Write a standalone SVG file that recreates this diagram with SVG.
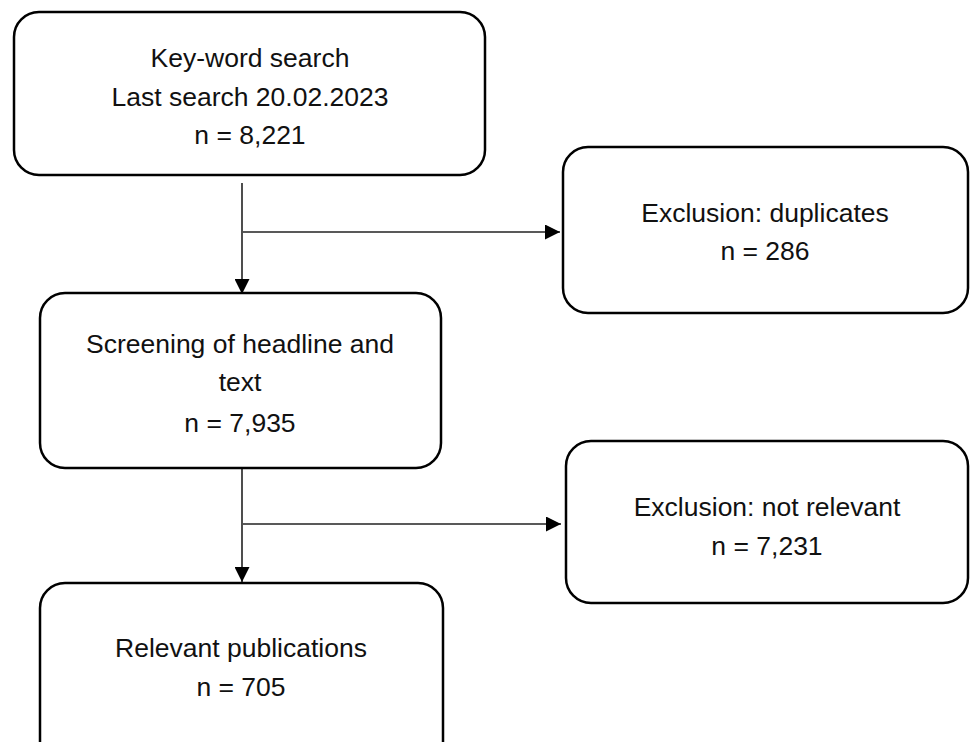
<svg xmlns="http://www.w3.org/2000/svg" width="970" height="742" viewBox="0 0 970 742">
<defs>
<style>
.box{fill:#fff;stroke:#000;stroke-width:2.5}
.t{font-family:"Liberation Sans","Open Sans",sans-serif;font-size:26.5px;fill:#111;text-anchor:middle}
.c{stroke:#222;stroke-width:1.6;fill:none}
</style>
<marker id="ah" viewBox="0 0 10 10" refX="10" refY="5" markerWidth="15" markerHeight="15" markerUnits="userSpaceOnUse" orient="auto">
<path d="M0,0 L10,5 L0,10 Z" fill="#000"/>
</marker>
</defs>
<rect width="970" height="742" fill="#fff"/>
<g id="connectors">
<line class="c" x1="242" y1="183" x2="242" y2="294" marker-end="url(#ah)"/>
<line class="c" x1="243" y1="232" x2="560" y2="232" marker-end="url(#ah)"/>
<line class="c" x1="242" y1="468" x2="242" y2="582" marker-end="url(#ah)"/>
<line class="c" x1="243" y1="524" x2="561" y2="524" marker-end="url(#ah)"/>
</g>
<g id="n1">
<rect class="box" x="14" y="12" width="471" height="163" rx="25"/>
<text class="t" x="250" y="67">Key-word search</text>
<text class="t" x="250" y="106">Last search 20.02.2023</text>
<text class="t" x="250" y="144">n = 8,221</text>
</g>
<g id="n2">
<rect class="box" x="563" y="147" width="405" height="166" rx="25"/>
<text class="t" x="765" y="222">Exclusion: duplicates</text>
<text class="t" x="765" y="260">n = 286</text>
</g>
<g id="n3">
<rect class="box" x="40" y="293" width="401" height="175" rx="25"/>
<text class="t" x="240" y="353">Screening of headline and</text>
<text class="t" x="240" y="391">text</text>
<text class="t" x="240" y="432">n = 7,935</text>
</g>
<g id="n4">
<rect class="box" x="566" y="441" width="402" height="162" rx="25"/>
<text class="t" x="767" y="516">Exclusion: not relevant</text>
<text class="t" x="767" y="555">n = 7,231</text>
</g>
<g id="n5">
<rect class="box" x="40" y="583" width="403" height="190" rx="25"/>
<text class="t" x="241" y="657">Relevant publications</text>
<text class="t" x="241" y="696">n = 705</text>
</g>
</svg>
